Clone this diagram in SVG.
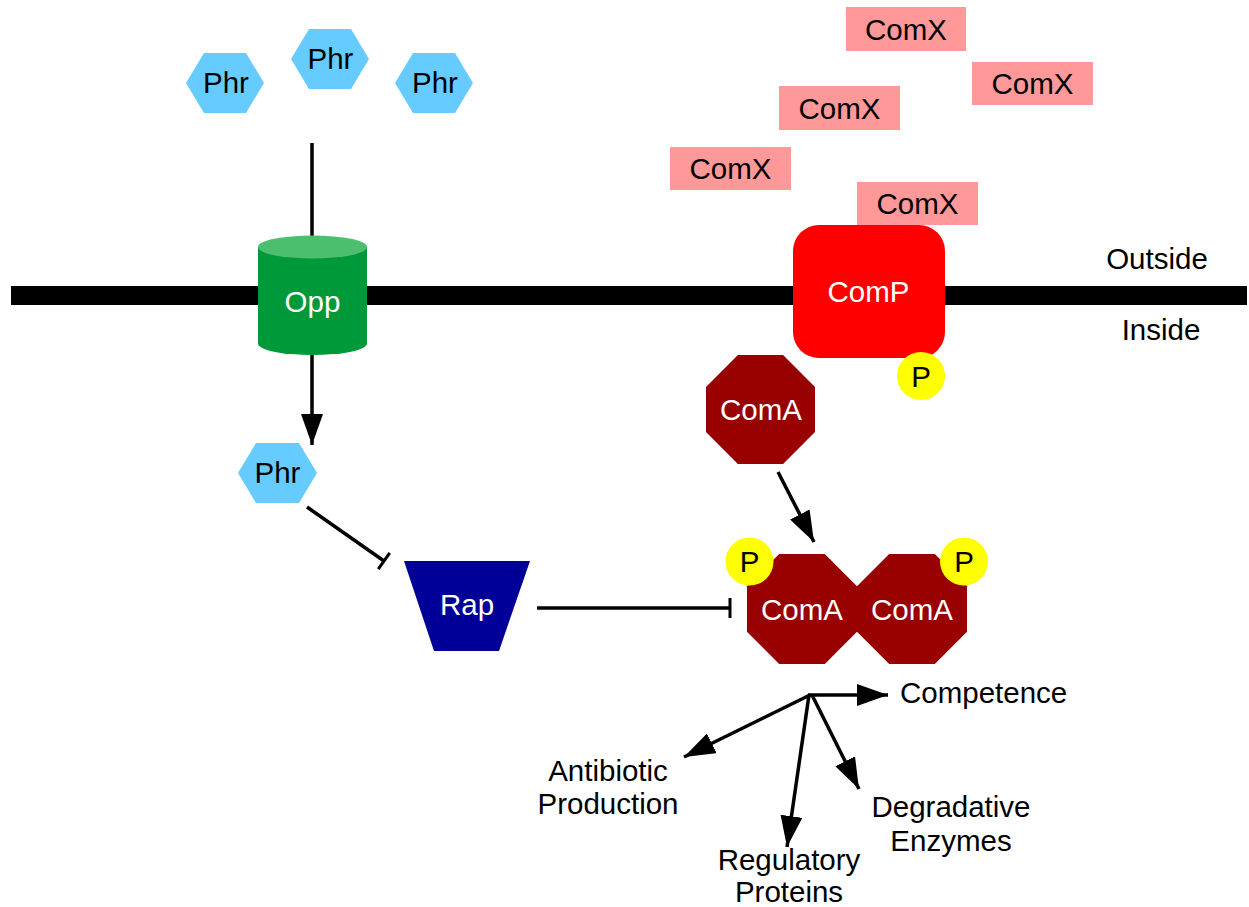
<svg xmlns="http://www.w3.org/2000/svg" width="1249" height="907" viewBox="0 0 1249 907">
<style>
text{font-family:"Liberation Sans",Arial,sans-serif;font-size:29.5px;text-anchor:middle}
.w{fill:#ffffff}
.k{fill:#000000}
.phr{fill:#66ccff}
.comx{fill:#ff9999}
.coma{fill:#990000}
.p{fill:#ffff00}
.ln{stroke:#000;stroke-width:3.5;fill:none}
</style>
<defs>
<marker id="arr" markerUnits="userSpaceOnUse" markerWidth="31" markerHeight="22" viewBox="0 0 31 22" refX="31" refY="11" orient="auto">
<path d="M0,0 L31,11 L0,22 Z" fill="#000"/>
</marker>
<marker id="tee" markerUnits="userSpaceOnUse" markerWidth="4" markerHeight="22" viewBox="0 0 4 22" refX="2" refY="11" orient="auto">
<rect x="0.5" y="1" width="3" height="20" fill="#000"/>
</marker>
</defs>
<rect width="1249" height="907" fill="#ffffff"/>
<g id="membrane">
<rect x="11" y="286" width="1236" height="19" fill="#000"/>
<text x="1157" y="269" class="k">Outside</text>
<text x="1161" y="340" class="k">Inside</text>
</g>
<g id="connectors">
<line class="ln" x1="312" y1="143" x2="312" y2="245"/>
<line class="ln" x1="312" y1="350" x2="312" y2="445" marker-end="url(#arr)"/>
<line class="ln" x1="307" y1="507" x2="384" y2="561" marker-end="url(#tee)"/>
<line class="ln" x1="537" y1="608" x2="730" y2="608" marker-end="url(#tee)"/>
<line class="ln" x1="778" y1="472" x2="814" y2="542" marker-end="url(#arr)"/>
<line class="ln" x1="808" y1="695" x2="888" y2="695" marker-end="url(#arr)"/>
<line class="ln" x1="810" y1="695" x2="684" y2="757" marker-end="url(#arr)"/>
<line class="ln" x1="809" y1="695" x2="787" y2="847" marker-end="url(#arr)"/>
<line class="ln" x1="812" y1="695" x2="859" y2="789" marker-end="url(#arr)"/>
</g>
<g id="phr1"><polygon class="phr" points="186,83 204,53 246,53 264,83 246,113 204,113"/><text x="226" y="93" class="k">Phr</text></g>
<g id="phr2"><polygon class="phr" points="291,59 309,29 351,29 369,59 351,89 309,89"/><text x="330.5" y="69" class="k">Phr</text></g>
<g id="phr3"><polygon class="phr" points="395,83 413,53 455,53 473,83 455,113 413,113"/><text x="435" y="93" class="k">Phr</text></g>
<g id="opp">
<path d="M258,247 L258,343.5 A54.5,11.5 0 0 0 367,343.5 L367,247 Z" fill="#00993a"/>
<ellipse cx="312.5" cy="247" rx="54.5" ry="11.5" fill="#4cbf6e"/>
<text x="312.5" y="312" class="w">Opp</text>
</g>
<g id="phr4"><polygon class="phr" points="238,473 256,443 299,443 317,473 299,503 256,503"/><text x="277.5" y="483" class="k">Phr</text></g>
<g id="rap"><polygon points="404,561 530,561 499,651 434,651" fill="#000099"/><text x="467" y="615" class="w">Rap</text></g>
<g id="comx1"><rect class="comx" x="846" y="7" width="120" height="44"/><text x="906" y="39.5" class="k">ComX</text></g>
<g id="comx2"><rect class="comx" x="972" y="62" width="121" height="43"/><text x="1032.5" y="94" class="k">ComX</text></g>
<g id="comx3"><rect class="comx" x="779" y="86" width="121" height="44"/><text x="839.5" y="118.5" class="k">ComX</text></g>
<g id="comx4"><rect class="comx" x="670" y="147" width="121" height="43"/><text x="730.5" y="179" class="k">ComX</text></g>
<g id="comx5"><rect class="comx" x="857" y="182" width="121" height="43"/><text x="917.5" y="214" class="k">ComX</text></g>
<g id="comp">
<rect x="793" y="225" width="152" height="133" rx="26" fill="#ff0000"/>
<text x="868.5" y="302" class="w">ComP</text>
<circle class="p" cx="921" cy="376" r="24"/>
<text x="921" y="386.5" class="k">P</text>
</g>
<g id="coma1">
<polygon class="coma" points="737.9,355 783.1,355 815,386.9 815,432.1 783.1,464 737.9,464 706,432.1 706,386.9"/>
<text x="761" y="420" class="w">ComA</text>
</g>
<g id="coma2">
<polygon class="coma" points="779.2,554 824.8,554 857,586.2 857,631.8 824.8,664 779.2,664 747,631.8 747,586.2"/>
<text x="802" y="620" class="w">ComA</text>
<circle class="p" cx="749.5" cy="561.5" r="24"/>
<text x="749.5" y="572" class="k">P</text>
</g>
<g id="coma3">
<polygon class="coma" points="889.2,554 934.8,554 967,586.2 967,631.8 934.8,664 889.2,664 857,631.8 857,586.2"/>
<text x="912" y="620" class="w">ComA</text>
<circle class="p" cx="964" cy="561.5" r="24"/>
<text x="964" y="572" class="k">P</text>
</g>
<g id="competence"><text x="900" y="703" class="k" style="text-anchor:start">Competence</text></g>
<g id="antibiotic"><text x="608" y="781" class="k">Antibiotic</text><text x="608" y="814" class="k">Production</text></g>
<g id="regulatory"><text x="789" y="870" class="k">Regulatory</text><text x="789" y="902" class="k">Proteins</text></g>
<g id="degradative"><text x="951" y="817" class="k">Degradative</text><text x="951" y="851" class="k">Enzymes</text></g>
</svg>
